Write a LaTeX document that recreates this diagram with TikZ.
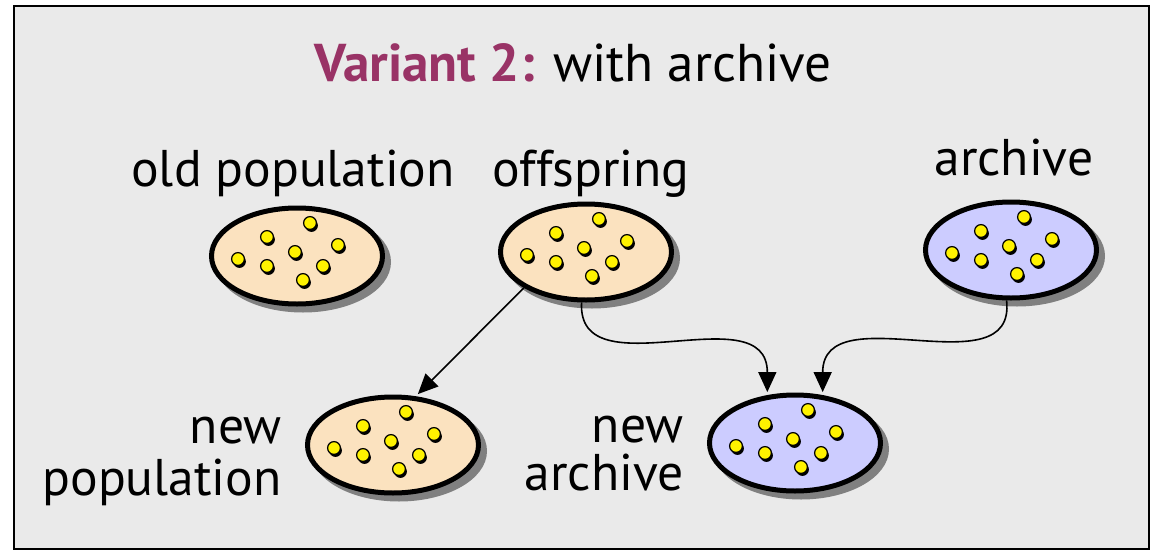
\documentclass[tikz,border=0pt]{standalone}
\usepackage{fontspec}
\setmainfont{PT Sans}
\usetikzlibrary{shapes.geometric,arrows.meta}
\definecolor{bgc}{HTML}{EAEAEA}
\definecolor{popfill}{HTML}{FBE2BF}
\definecolor{arcfill}{HTML}{CCCCFF}
\definecolor{titlec}{HTML}{993366}
\definecolor{shadowc}{HTML}{808080}
\begin{document}
\begin{tikzpicture}[x=0.5pt,y=-0.5pt,
  pop/.style={ellipse, draw=black, line width=2.5pt, minimum width=85.5pt, minimum height=48pt, inner sep=0pt,
    preaction={fill=shadowc, draw=shadowc, transform canvas={xshift=3pt,yshift=-3pt}}},
  lbl/.style={font=\fontsize{25.8}{26}\selectfont, inner sep=0pt},
  arr/.style={line width=0.8pt, -{Triangle[length=10pt,width=9pt]}, shorten >=1.5pt},
  pics/cloud/.style={code={
    \foreach \dx/\dy in {13/-33,-30/-19,-2/-4,41/-11,-59/3,-30/10,26/10,6/24}{
      \fill[black] (\dx+1.5,\dy+2.5) circle[radius=3.2pt];
      \filldraw[fill=yellow, draw=black, line width=0.6pt] (\dx,\dy) circle[radius=3.2pt];
    }}}
]
\useasboundingbox (0,0) rectangle (1152,552);
\draw[fill=bgc, line width=1pt] (14,6) rectangle (1149,549);

\node[anchor=base, inner sep=0pt, font=\fontsize{26.6}{32}\selectfont] (title) at (573,81)
  {\textcolor{titlec}{\bfseries Variant 2:} with archive};

\node[pop, fill=popfill] (op) at (297,256) {};
\node[pop, fill=popfill] (off) at (586,252) {};
\node[pop, fill=arcfill] (arch) at (1011,250) {};
\node[pop, fill=popfill] (np) at (393,445) {};
\node[pop, fill=arcfill] (na) at (795,443) {};

\pic at (op) {cloud};
\pic at (off) {cloud};
\pic at (arch) {cloud};
\pic at (np) {cloud};
\pic at (na) {cloud};

\node[lbl, anchor=base] (tOp) at (293,186) {old population};
\node[lbl, anchor=base] (tOff) at (591,186) {offspring};
\node[lbl, anchor=base] (tArch) at (1014,175) {archive};
\node[lbl, anchor=base east, align=right] (tNp) at (282,495) {new\\population};
\node[lbl, anchor=base east, align=right, font=\fontsize{25.8}{24}\selectfont] (tNa) at (684,490) {new\\archive};

\draw[arr] (off.210) -- (np.65);
\draw[arr] (off.265) .. controls +(-5,90) and +(0,-102) .. (na.120);
\draw[arr] (arch.265) .. controls +(10,90) and +(0,-102) .. (na.60);
\end{tikzpicture}
\end{document}
